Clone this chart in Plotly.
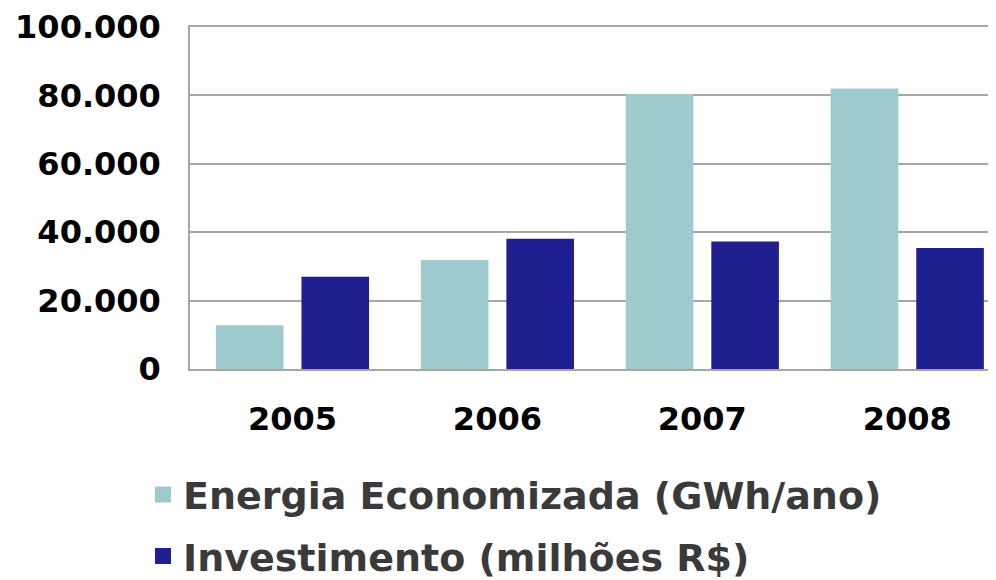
import plotly.graph_objects as go

years = ["2005", "2006", "2007", "2008"]
energia = [12800, 31900, 80400, 82000]
investimento = [27000, 38100, 37300, 35400]
y_ticks = [0, 20000, 40000, 60000, 80000, 100000]

name_e = "Energia Economizada (GWh/ano)"
name_i = "Investimento (milhões R$)"
col_e = "#9fcacd"
col_i = "#1f1f91"

fig = go.Figure()
fig.add_trace(go.Bar(x=years, y=energia, name=name_e, marker=dict(color=col_e, line=dict(width=0)),
                     showlegend=False))
fig.add_trace(go.Bar(x=years, y=investimento, name=name_i, marker=dict(color=col_i, line=dict(width=0)),
                     showlegend=False))
# legend proxies (no visible points)
fig.add_trace(go.Scatter(x=[years[0]], y=[None], mode="markers", name=name_e, hoverinfo="skip",
                         marker=dict(symbol="square", size=20, color=col_e), legend="legend"))
fig.add_trace(go.Scatter(x=[years[0]], y=[None], mode="markers", name=name_i, hoverinfo="skip",
                         marker=dict(symbol="square", size=20, color=col_i), legend="legend2"))

# page body has an 8px margin: the figure is drawn offset by 8px
OFF = 8
W, H = 996 - OFF, 580
L, T = 190 - OFF, 25 - OFF
B = H - (370 - OFF)
PW, PH = W - L, H - T - B

def px_x(px):
    return (px - OFF - L) / PW

def px_y(py):
    return (H - B - (py - OFF)) / PH

legend_font = dict(family="DejaVu Sans", size=38, color="#3a3a3a", weight="bold")
fig.update_layout(
    width=W, height=H,
    margin=dict(l=L, r=0, t=T, b=B),
    paper_bgcolor="white", plot_bgcolor="white",
    separators=",.",
    barmode="group", bargap=0.165, bargroupgap=0.21,
    xaxis=dict(range=[-0.5, 3.433], showgrid=False, showline=True, mirror=True,
               linecolor="#a6a6a6", linewidth=1.5,
               ticks="", ticklabelstandoff=21, tickangle=0, fixedrange=True,
               tickfont=dict(family="DejaVu Sans", size=32, color="#000000", weight="bold")),
    yaxis=dict(range=[0, 100000], tickvals=y_ticks, tickformat=",d", showgrid=True,
               gridcolor="#a6a6a6", gridwidth=1.5, showline=True, linecolor="#a6a6a6", linewidth=1.5,
               ticks="", ticklabelstandoff=21, zeroline=False, fixedrange=True,
               ticklabeloverflow="allow",
               tickfont=dict(family="DejaVu Sans", size=32, color="#000000", weight="bold")),
    legend=dict(x=px_x(143), y=px_y(497), xanchor="left", yanchor="middle",
                font=legend_font, bgcolor="rgba(0,0,0,0)", borderwidth=0, itemclick=False),
    legend2=dict(x=px_x(143), y=px_y(559), xanchor="left", yanchor="middle",
                 font=legend_font, bgcolor="rgba(0,0,0,0)", borderwidth=0, itemclick=False),
)

fig.write_html("out.html")
